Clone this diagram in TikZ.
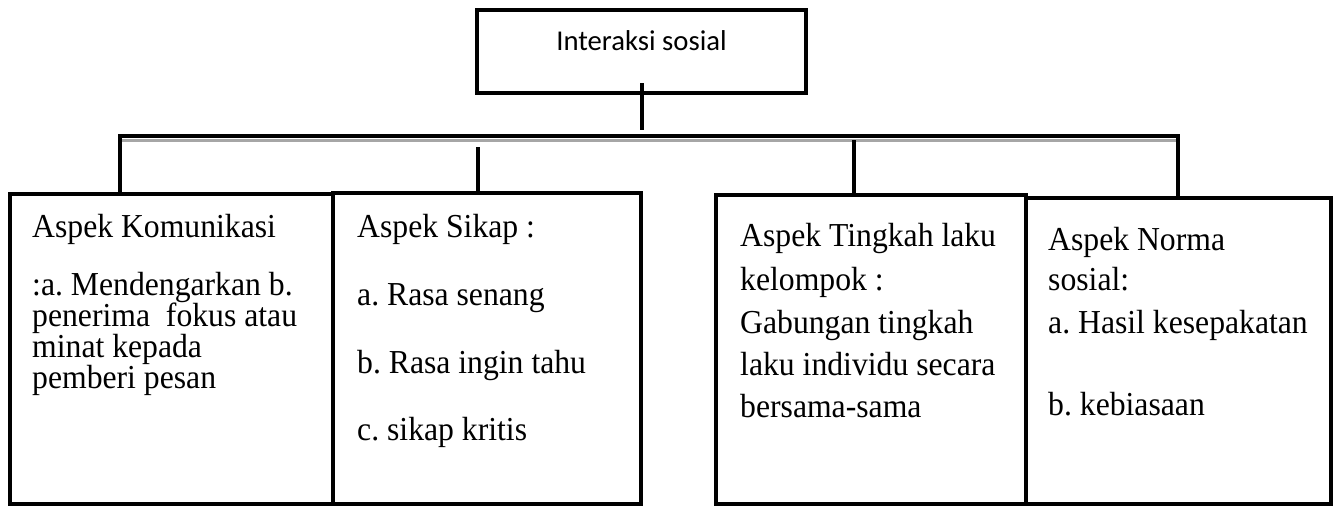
\documentclass[tikz,border=0pt]{standalone}
\usepackage{fontspec}
\setmainfont{Liberation Serif}[FakeStretch=0.946]
\newfontfamily\calibri{Carlito}
\frenchspacing
\tikzset{
  box/.style={draw=black, line width=4pt, rectangle, inner sep=0pt, outer sep=0pt},
  conn/.style={draw=black, line width=4pt, line join=miter},
  shadowline/.style={draw=black!35, line width=3pt},
  txt/.style={anchor=base west, inner sep=0pt, font=\frenchspacing\fontsize{33.5}{36}\selectfont},
  ttl/.style={anchor=base, inner sep=0pt, font=\calibri\fontsize{28.7}{34}\selectfont},
}
\begin{document}
\begin{tikzpicture}[x=1pt,y=-1pt]
\useasboundingbox (0,0) rectangle (1335,506);
% boxes
\node[box, minimum width=329pt, minimum height=83pt] (top) at (641.5,51) {};
\node[box, minimum width=323pt, minimum height=310pt] (box1) at (171.5,349) {};
\node[box, minimum width=308pt, minimum height=311pt] (box2) at (487,348.5) {};
\node[box, minimum width=310pt, minimum height=309pt] (box3) at (871,349.5) {};
\node[box, minimum width=305pt, minimum height=306pt] (box4) at (1178.5,351) {};
% title
\node[ttl] (ttext) at (641.5,50) {Interaksi sosial};
% connectors
\coordinate (barL) at (120,136);
\coordinate (barR) at (1178,136);
\coordinate (d2) at (478,147);
\coordinate (d3) at (854,140);
\draw[shadowline] ([xshift=2pt,yshift=-4.5pt]barL) -- ([xshift=-2pt,yshift=-4.5pt]barR);
\draw[conn] ([yshift=9.5pt]top.south) -- ([yshift=-37.5pt]top.south);
\draw[conn] (box1.north -| barL) -- (barL) -- (barR) -- (box4.north -| barR);
\draw[conn] (d2) -- (box2.north -| d2);
\draw[conn] (d3) -- (box3.north -| d3);
% box 1 text
\node[txt] (t1a) at (32,237) {Aspek Komunikasi};
\node[txt] (t1b) at (32,295) {:a. Mendengarkan b.};
\node[txt] (t1c) at (32,326) {penerima~ fokus atau};
\node[txt] (t1d) at (32,357) {minat kepada};
\node[txt] (t1e) at (32,388) {pemberi pesan};
% box 2 text
\node[txt] (t2a) at (357,237) {Aspek Sikap :};
\node[txt] (t2b) at (357,305) {a. Rasa senang};
\node[txt] (t2c) at (357,373) {b. Rasa ingin tahu};
\node[txt] (t2d) at (357,440) {c. sikap kritis};
% box 3 text
\node[txt] (t3a) at (740,246) {Aspek Tingkah laku};
\node[txt] (t3b) at (740,290) {kelompok :};
\node[txt] (t3c) at (740,333) {Gabungan tingkah};
\node[txt] (t3d) at (740,375) {laku individu secara};
\node[txt] (t3e) at (740,417) {bersama-sama};
% box 4 text
\node[txt] (t4a) at (1048,250) {Aspek Norma};
\node[txt] (t4b) at (1048,290) {sosial:};
\node[txt] (t4c) at (1048,333) {a. Hasil kesepakatan};
\node[txt] (t4d) at (1048,415) {b. kebiasaan};
\end{tikzpicture}
\end{document}
